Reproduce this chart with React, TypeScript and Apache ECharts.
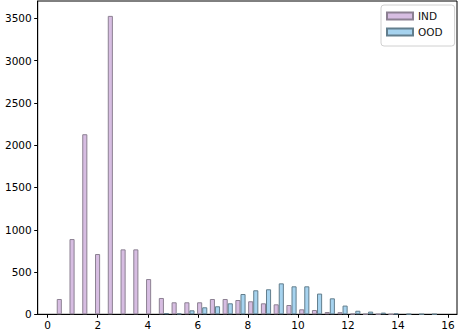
import React, { useEffect, useRef } from "react";
import * as echarts from "echarts";

const BIN_START = 0.31;
const BIN_WIDTH = 0.51;
const indCounts = [181, 890, 2130, 713, 3530, 768, 768, 417, 193, 142, 142, 142, 181, 181, 169, 154, 130, 118, 110, 59, 51, 27, 25, 6, 3, 2, 1, 0, 0, 0];
const oodCounts = [0, 0, 0, 0, 0, 0, 0, 0, 15, 10, 47, 83, 95, 130, 240, 284, 296, 366, 331, 331, 245, 189, 103, 42, 32, 20, 10, 3, 2, 2];
const xTicks = [0, 2, 4, 6, 8, 10, 12, 14, 16];
const yTicks = [0, 500, 1000, 1500, 2000, 2500, 3000, 3500];

export default function App() {
  const ref = useRef<HTMLDivElement>(null);
  useEffect(() => {
    if (!ref.current) return;
    const chart = echarts.init(ref.current, null, { renderer: "svg" });
    const toPoint = (v: number, i: number, off: number) =>
      v > 0 ? [BIN_START + (i + off) * BIN_WIDTH, v] : [BIN_START + (i + off) * BIN_WIDTH, "-"];
    const indData = indCounts.map((v, i) => toPoint(v, i, 0.3));
    const oodData = oodCounts.map((v, i) => toPoint(v, i, 0.7));
    const font = "DejaVu Sans";
    chart.setOption({
      animation: false,
      grid: {
        left: 37.7,
        right: 1,
        top: 1,
        bottom: 17.7,
        show: true,
        borderColor: "#000",
        borderWidth: 1,
        backgroundColor: "#fff",
      },
      legend: {
        orient: "vertical",
        left: 381,
        top: 5,
        padding: [5, 12, 8, 5],
        itemWidth: 26,
        itemHeight: 7,
        itemGap: 4,
        icon: "rect",
        backgroundColor: "#fff",
        borderColor: "#d0d0d0",
        borderWidth: 1,
        borderRadius: 3,
        textStyle: { fontFamily: font, fontSize: 10.5, color: "#111", lineHeight: 12 },
        data: ["IND", "OOD"],
      },
      xAxis: {
        type: "value",
        min: -0.4,
        max: 16.36,
        splitLine: { show: false },
        axisLine: { show: true, onZero: false, lineStyle: { color: "#000", width: 1 } },
        axisTick: { show: true, length: 3.5, lineStyle: { color: "#000" }, customValues: xTicks },
        axisLabel: {
          customValues: xTicks,
          formatter: (v: number) => String(v),
          color: "#000",
          fontFamily: font,
          fontSize: 10.5,
          margin: 5,
        },
      },
      yAxis: {
        type: "value",
        min: 0,
        max: 3706,
        splitLine: { show: false },
        axisLine: { show: true, onZero: false, lineStyle: { color: "#000", width: 1 } },
        axisTick: { show: true, length: 3.5, lineStyle: { color: "#000" }, customValues: yTicks },
        axisLabel: {
          customValues: yTicks,
          formatter: (v: number) => String(v),
          color: "#000",
          fontFamily: font,
          fontSize: 10.5,
          margin: 6,
        },
      },
      series: [
        {
          name: "IND",
          type: "bar",
          data: indData,
          barWidth: 5.1,
          barGap: "-100%",
          itemStyle: { color: "#d7bde2", borderColor: "#8c8092", borderWidth: 1 },
        },
        {
          name: "OOD",
          type: "bar",
          data: oodData,
          barWidth: 5.1,
          barGap: "-100%",
          itemStyle: { color: "#a6d3ef", borderColor: "#627e8d", borderWidth: 1 },
        },
      ],
    });
    return () => chart.dispose();
  }, []);
  return (
    <div
      ref={ref}
      style={{ position: "fixed", left: 0, top: 0, width: 458, height: 332, background: "#fff" }}
    />
  );
}
